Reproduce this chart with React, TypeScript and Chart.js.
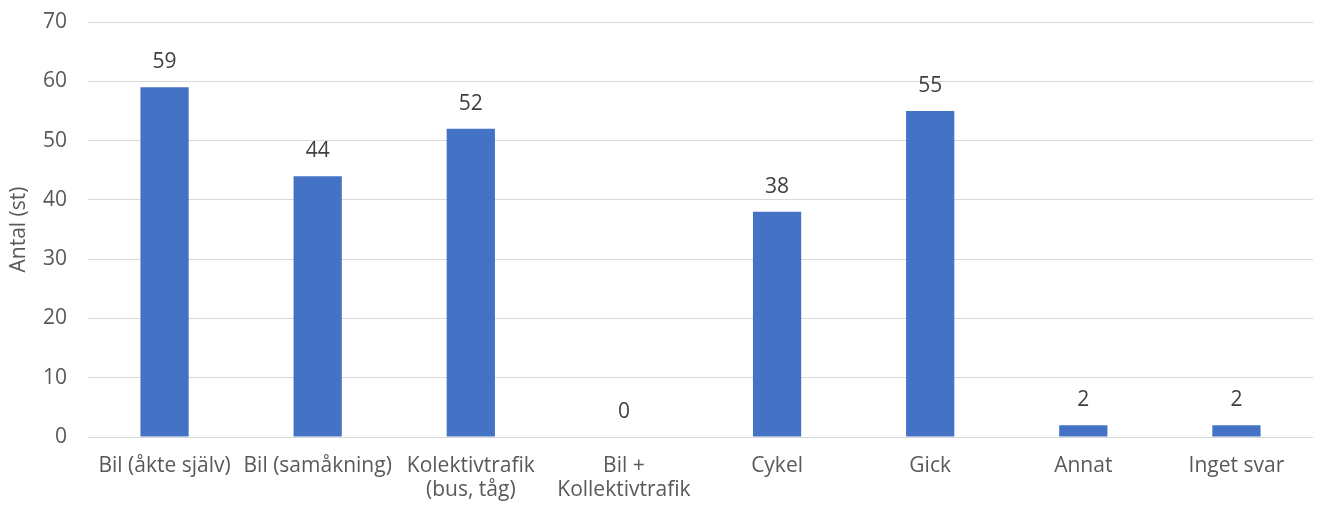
import React, { useEffect, useRef } from "react";
import { Chart, registerables } from "chart.js";

Chart.register(...registerables);

const categories: (string | string[])[] = [
  "Bil (åkte själv)",
  "Bil (samåkning)",
  ["Kolektivtrafik", "(bus, tåg)"],
  ["Bil +", "Kollektivtrafik"],
  "Cykel",
  "Gick",
  "Annat",
  "Inget svar",
];
const values: number[] = [59, 44, 52, 0, 38, 55, 2, 2];
const yTicks: number[] = [0, 10, 20, 30, 40, 50, 60, 70];
const yTitle = "Antal (st)";

const FONT = "'Open Sans', 'Liberation Sans', sans-serif";
const TEXT = "#595959";

const dataLabels = {
  id: "dataLabels",
  afterDatasetsDraw(chart: any) {
    const ctx = chart.ctx;
    const meta = chart.getDatasetMeta(0);
    ctx.save();
    ctx.font = `21px ${FONT}`;
    ctx.fillStyle = "#404040";
    ctx.textAlign = "center";
    ctx.textBaseline = "middle";
    meta.data.forEach((el: any, i: number) => {
      ctx.fillText(String(values[i]), el.x, el.y - 25);
    });
    ctx.restore();
  },
};

export default function App() {
  const ref = useRef<HTMLCanvasElement | null>(null);
  useEffect(() => {
    if (!ref.current) return;
    const chart = new Chart(ref.current, {
      type: "bar",
      data: {
        labels: categories,
        datasets: [
          {
            data: values,
            backgroundColor: "#4472C4",
            barPercentage: 0.63,
            categoryPercentage: 0.5,
          },
        ],
      },
      options: {
        animation: false,
        responsive: false,
        maintainAspectRatio: false,
        layout: { padding: { top: 22, right: 13, left: 0, bottom: 0 } },
        plugins: {
          legend: { display: false },
          tooltip: { enabled: false },
        },
        scales: {
          x: {
            grid: { display: false, drawTicks: false },
            border: { display: false },
            ticks: {
              color: TEXT,
              font: { family: FONT, size: 21, lineHeight: 1.14 },
              padding: 17,
              maxRotation: 0,
              autoSkip: false,
            },
            afterFit(scale: any) {
              scale.height = 76;
              scale.paddingLeft = 0;
              scale.paddingRight = 0;
            },
          },
          y: {
            min: 0,
            max: 70,
            afterBuildTicks(scale: any) {
              scale.ticks = yTicks.map((v) => ({ value: v }));
            },
            grid: { color: "#D9D9D9", lineWidth: 1, drawTicks: false },
            border: { display: false },
            ticks: {
              color: TEXT,
              font: { family: FONT, size: 21 },
              padding: 21,
            },
            title: {
              display: true,
              text: yTitle,
              color: TEXT,
              font: { family: FONT, size: 21 },
              padding: { top: 6, bottom: 0 },
            },
            afterFit(scale: any) {
              scale.width = 88;
              scale.paddingTop = 0;
              scale.paddingBottom = 0;
            },
          },
        },
      },
      plugins: [dataLabels],
    });
    return () => chart.destroy();
  }, []);
  return (
    <div style={{ position: "fixed", left: 0, top: 0, width: 1326, height: 513, background: "#fff" }}>
      <canvas ref={ref} width={1326} height={513} style={{ width: 1326, height: 513 }} />
    </div>
  );
}
